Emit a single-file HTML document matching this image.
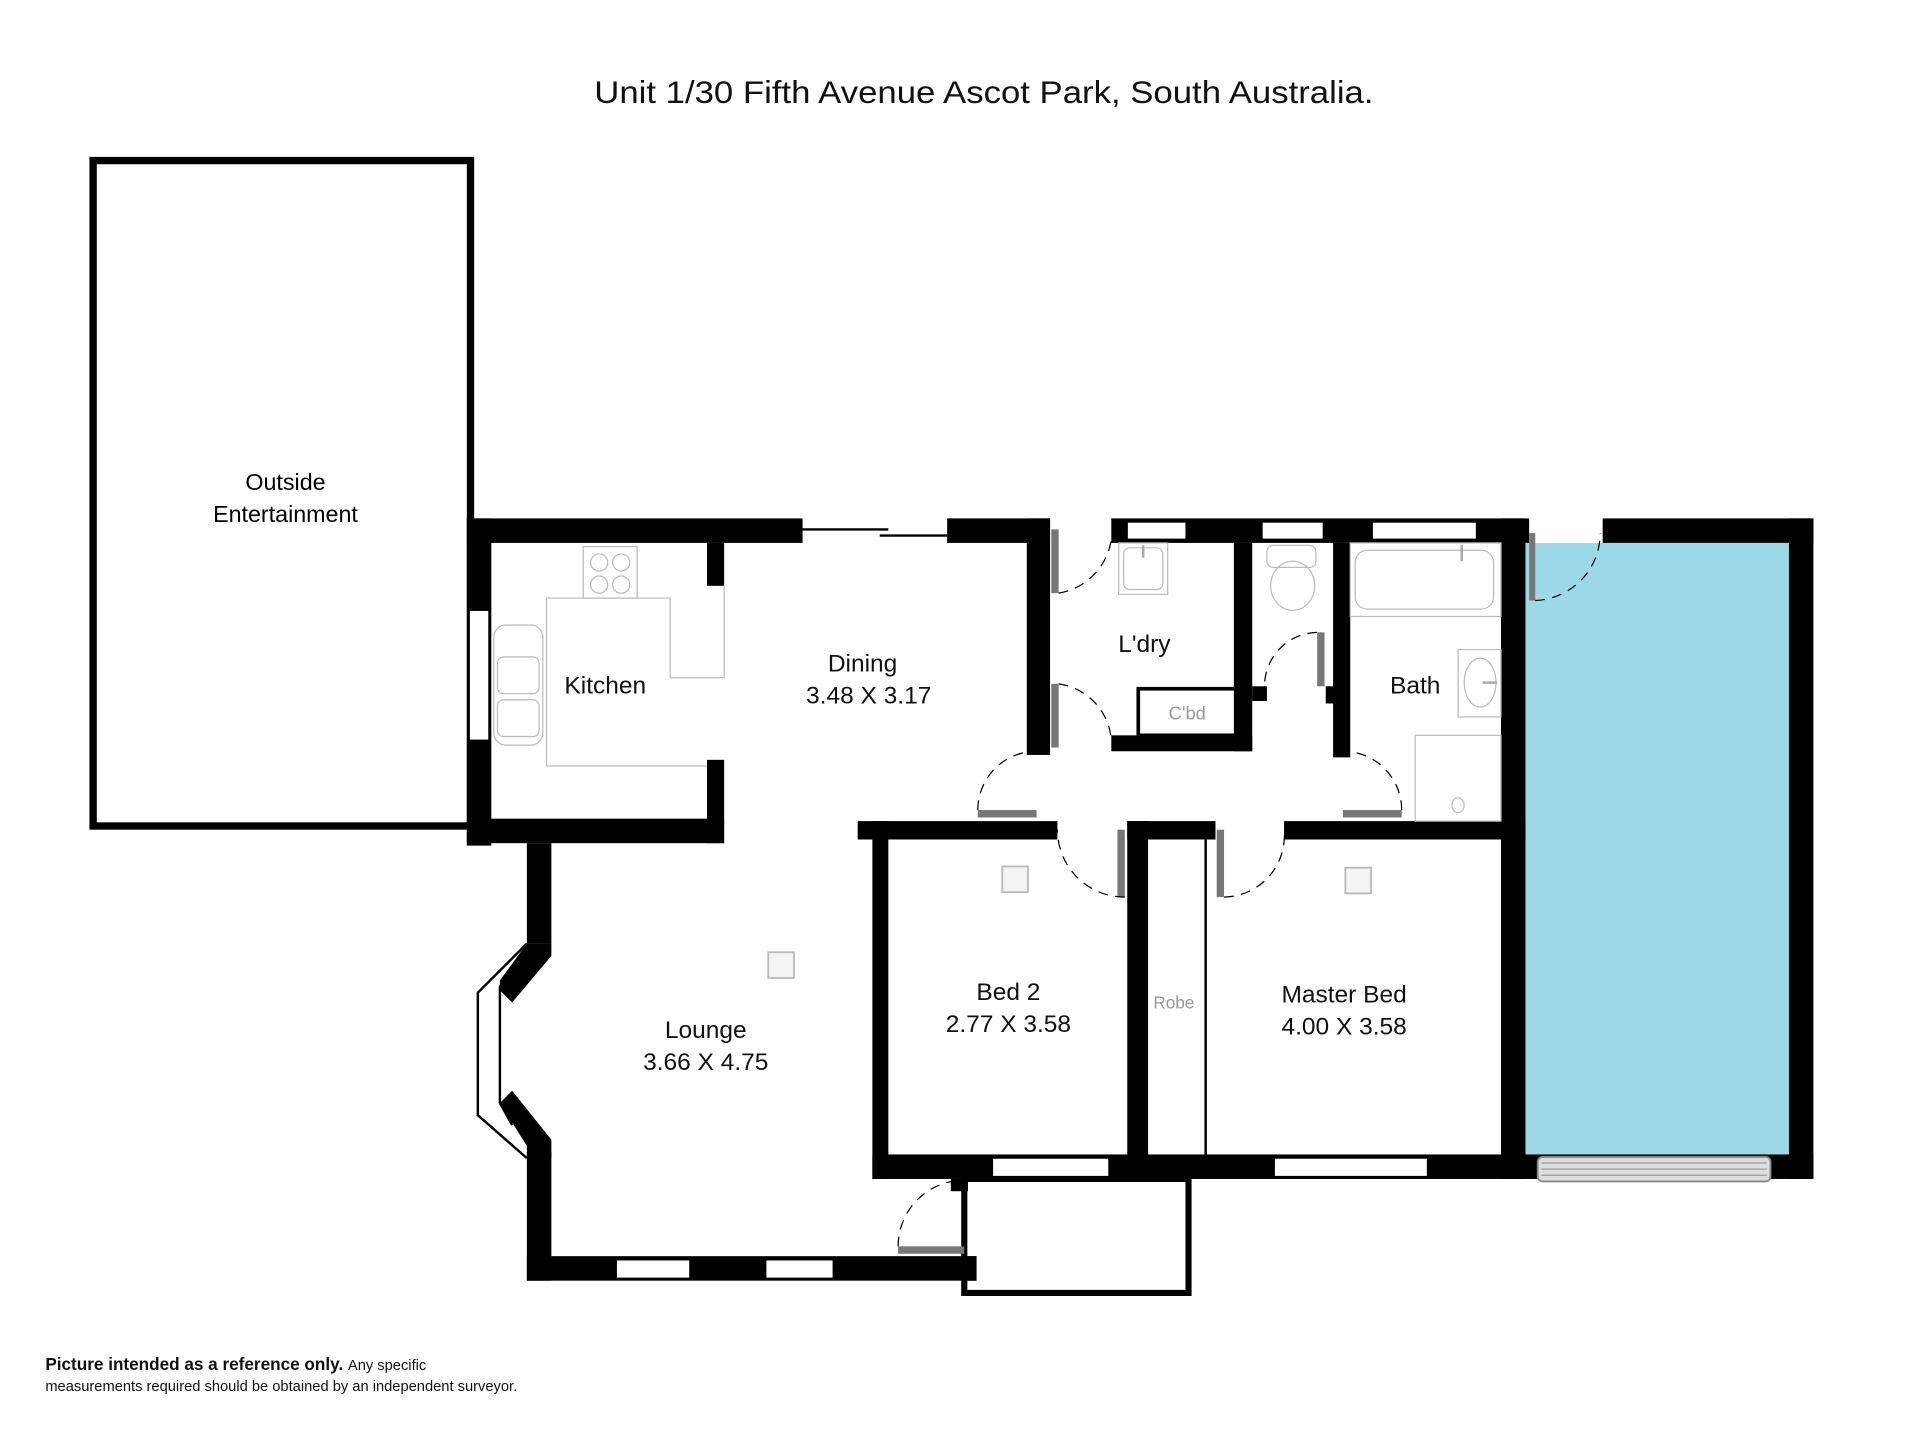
<!DOCTYPE html>
<html><head><meta charset="utf-8"><style>
html,body{margin:0;padding:0;background:#fff;}
svg{display:block;}
text{font-family:"Liberation Sans",sans-serif;}
</style></head><body>
<svg width="1920" height="1440" viewBox="0 0 1567 1175" preserveAspectRatio="none" xmlns="http://www.w3.org/2000/svg">
<rect width="1567" height="1175" fill="#fff"/>
<text x="803" y="84" font-size="26" text-anchor="middle" fill="#111" textLength="636" lengthAdjust="spacingAndGlyphs">Unit 1/30 Fifth Avenue Ascot Park, South Australia.</text>

<rect x="76" y="131" width="308" height="543" fill="none" stroke="#000" stroke-width="6"/>
<text x="233" y="400" font-size="19" text-anchor="middle">Outside</text>
<text x="233" y="426" font-size="19" text-anchor="middle">Entertainment</text>

<rect x="1245" y="443" width="215" height="499" fill="#9bd8e8"/>

<g fill="#000">
<rect x="381" y="423" width="274" height="20"/>
<rect x="773" y="423" width="84" height="20"/>
<rect x="907" y="423" width="341" height="20"/>
<rect x="1308" y="423" width="172" height="20"/>
<rect x="381" y="423" width="20" height="267"/>
<rect x="381" y="668" width="210" height="20"/>
<rect x="577" y="620" width="14" height="68"/>
<rect x="577" y="443" width="14" height="35"/>
<rect x="838" y="423" width="19" height="193"/>
<rect x="1007" y="443" width="15" height="170"/>
<rect x="907" y="600" width="115" height="13"/>
<rect x="1022" y="560" width="12" height="12"/>
<rect x="1088" y="443" width="14" height="175"/>
<rect x="1082" y="560" width="8" height="14"/>
<rect x="1225" y="423" width="20" height="539"/>
<rect x="1460" y="423" width="20" height="539"/>
<rect x="700" y="670" width="163" height="15"/>
<rect x="920" y="670" width="72" height="15"/>
<rect x="1048" y="670" width="197" height="15"/>
<rect x="712" y="670" width="13" height="292"/>
<rect x="920" y="670" width="17" height="275"/>
<rect x="983" y="685" width="2" height="258"/>
<rect x="712" y="942" width="768" height="20"/>
<rect x="430" y="688" width="20" height="82"/>
<polygon points="430,770 450,770 450,780 418,818 408,808 408,800"/>
<polygon points="408,900 418,890 450,930 450,945 430,945 430,935"/>
<rect x="430" y="940" width="20" height="105"/>
<rect x="430" y="1025" width="367" height="20"/>
<rect x="776" y="962" width="14" height="10"/>
</g>

<polyline points="430,770 390,810 390,910 430,945" fill="none" stroke="#000" stroke-width="2"/>
<polyline points="418,790 408,805 408,900 418,918" fill="none" stroke="#000" stroke-width="2"/>

<rect x="787" y="962" width="183" height="93" fill="none" stroke="#000" stroke-width="5"/>
<rect x="785" y="1025" width="12" height="20" fill="#000"/>

<g fill="#fff" stroke="#000" stroke-width="1">
<rect x="383" y="498" width="16" height="106"/>
<rect x="920" y="426" width="48" height="14"/>
<rect x="1030" y="426" width="50" height="14"/>
<rect x="1120" y="426" width="85" height="14"/>
<rect x="810" y="945" width="95" height="15"/>
<rect x="1040" y="945" width="125" height="15"/>
<rect x="503" y="1028" width="60" height="15"/>
<rect x="625" y="1028" width="55" height="15"/>
</g>
<rect x="1255" y="944" width="190" height="20" rx="4" fill="#ddd" stroke="#888" stroke-width="1.5"/>
<g stroke="#999" stroke-width="1"><line x1="1258" y1="949" x2="1442" y2="949"/><line x1="1258" y1="954" x2="1442" y2="954"/><line x1="1258" y1="959" x2="1442" y2="959"/></g>

<line x1="655" y1="432" x2="725" y2="432" stroke="#000" stroke-width="2"/>
<line x1="718" y1="437" x2="773" y2="437" stroke="#000" stroke-width="2"/>

<g fill="#777">
<rect x="858" y="432" width="6" height="52"/>
<rect x="858" y="558" width="6" height="52"/>
<rect x="1075" y="516" width="6" height="44"/>
<rect x="1248" y="435" width="5" height="55"/>
<rect x="798" y="661" width="48" height="6"/>
<rect x="1096" y="661" width="48" height="6"/>
<rect x="912" y="677" width="6" height="55"/>
<rect x="993" y="677" width="6" height="55"/>
<rect x="733" y="1017" width="54" height="6"/>
</g>
<g fill="none" stroke="#000" stroke-width="1" stroke-dasharray="8,6">
<path d="M864,484 A52,52 0 0 0 907,440"/>
<path d="M864,558 A50,50 0 0 1 907,604"/>
<path d="M1075,516 A44,44 0 0 0 1032,560"/>
<path d="M1253,490 A55,55 0 0 0 1306,435"/>
<path d="M798,661 A48,48 0 0 1 846,613"/>
<path d="M1144,661 A48,48 0 0 0 1096,613"/>
<path d="M918,732 A55,55 0 0 1 863,677"/>
<path d="M999,732 A50,50 0 0 0 1048,677"/>
<path d="M733,1017 A54,54 0 0 1 787,963"/>
</g>

<g fill="none" stroke="#bbb" stroke-width="1">
<rect x="476" y="446" width="44" height="42"/>
<circle cx="489" cy="459" r="7"/><circle cx="507" cy="459" r="7"/>
<circle cx="489" cy="477" r="7"/><circle cx="507" cy="477" r="7"/>
<polyline points="446,625 446,488 547,488 547,553 591,553 591,478"/>
<line x1="446" y1="625" x2="577" y2="625"/>
<rect x="403" y="510" width="40" height="98" rx="10"/>
<rect x="406" y="536" width="34" height="30" rx="5"/>
<rect x="406" y="571" width="34" height="30" rx="5"/>
<rect x="913" y="443" width="40" height="42"/>
<rect x="917" y="447" width="32" height="34" rx="5"/>
<rect x="1034" y="445" width="40" height="18" rx="5"/>
<ellipse cx="1055" cy="478" rx="18" ry="20"/>
<rect x="1102" y="443" width="123" height="60"/>
<rect x="1106" y="449" width="113" height="48" rx="10"/>
<rect x="1190" y="530" width="35" height="55"/>
<ellipse cx="1208" cy="557" rx="13" ry="20"/>
<rect x="1155" y="600" width="70" height="70"/>
<ellipse cx="1190" cy="657" rx="5" ry="6"/>
</g>
<g stroke="#aaa" stroke-width="2"><line x1="933" y1="445" x2="933" y2="455"/><line x1="1193" y1="445" x2="1193" y2="458"/><line x1="1210" y1="557" x2="1222" y2="557"/></g>
<rect x="929" y="562" width="80" height="38" fill="none" stroke="#000" stroke-width="3"/>
<text x="969" y="587" font-size="15" text-anchor="middle" fill="#999">C'bd</text>

<g fill="#f4f4f4" stroke="#bbb" stroke-width="1.5">
<rect x="627" y="777" width="21" height="21"/>
<rect x="818" y="707" width="21" height="21"/>
<rect x="1098" y="708" width="21" height="21"/>
</g>

<g font-size="20" text-anchor="middle" fill="#111">
<text x="494" y="566">Kitchen</text>
<text x="704" y="548">Dining</text>
<text x="709" y="574">3.48 X 3.17</text>
<text x="934" y="532">L'dry</text>
<text x="1155" y="566">Bath</text>
<text x="576" y="847">Lounge</text>
<text x="576" y="873">3.66 X 4.75</text>
<text x="823" y="816">Bed 2</text>
<text x="823" y="842">2.77 X 3.58</text>
<text x="1097" y="818">Master Bed</text>
<text x="1097" y="844">4.00 X 3.58</text>
</g>
<text x="958" y="823" font-size="14" text-anchor="middle" fill="#999">Robe</text>

<text x="37" y="1118" font-size="14" font-weight="bold" fill="#111">Picture intended as a reference only. <tspan font-weight="normal" font-size="12">Any specific</tspan></text>
<text x="37" y="1135" font-size="12" fill="#111">measurements required should be obtained by an independent surveyor.</text>
</svg>
</body></html>
